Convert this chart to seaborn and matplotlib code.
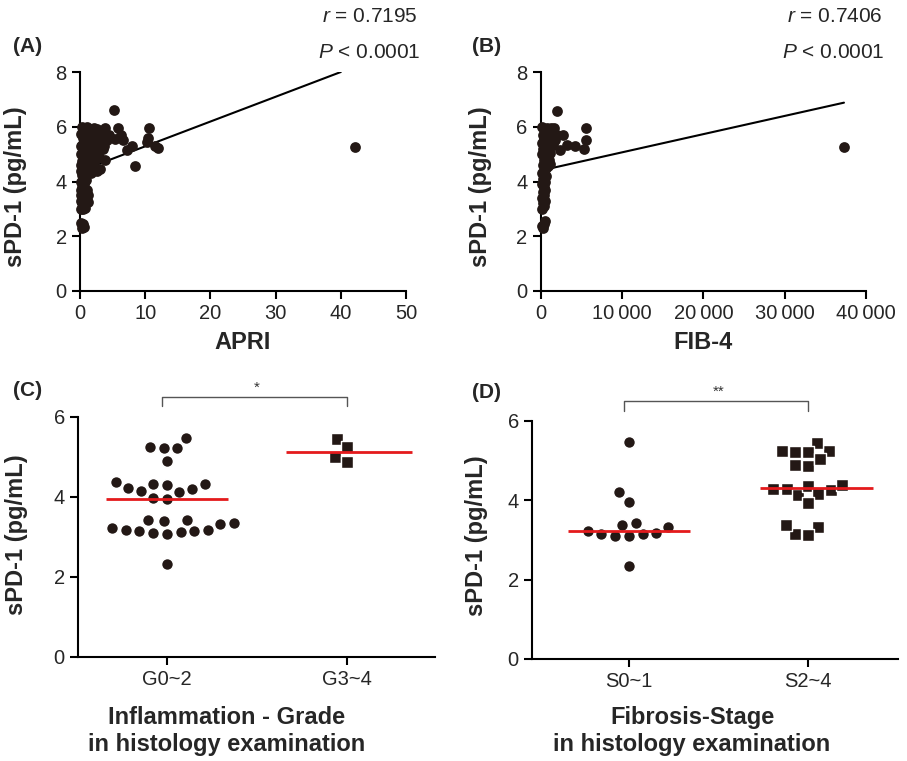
import numpy as np
import matplotlib
matplotlib.use('Agg')
import matplotlib.pyplot as plt
import seaborn as sns

# ---- data ----
apri_x = [0.3, 0.5, 0.6, 0.2, 0.2, 0.4, 0.3, 0.6, 0.8, 1.0, 1.2, 0.5, 0.2, 0.7, 0.4, 1.1,
          0.3, 0.6, 0.2, 0.9, 0.5, 0.3, 1.3, 0.7, 0.2, 1.0, 1.6, 0.4, 2.0, 0.8, 1.4, 0.3,
          2.3, 1.1, 0.6, 1.8, 0.2, 2.6, 1.2, 0.5, 2.1, 0.9, 1.5, 0.3, 2.8, 1.0, 0.6, 1.9,
          0.4, 2.4, 1.3, 0.2, 3.0, 0.8, 1.7, 0.5, 2.6, 1.1, 0.3, 3.3, 3.5, 2.9, 3.8, 3.0,
          2.6, 4.2, 4.5, 3.8, 3.7, 5.2, 5.8, 5.4, 6.3, 6.6, 7.2, 7.9, 8.5, 10.2, 10.4, 10.6,
          11.5, 12.0, 42.2, 1.6, 2.2, 0.7, 1.4, 2.0, 0.9, 1.7, 0.4, 0.1, 0.1, 0.1, 0.15,
          0.5, 0.8, 1.2]
apri_y = [2.3, 2.45, 2.35, 2.5, 3.0, 3.1, 3.2, 3.25, 3.05, 3.3, 3.25, 3.4, 3.5, 3.55, 3.65, 3.7,
          3.8, 3.9, 4.0, 4.05, 4.15, 4.25, 4.3, 4.35, 4.4, 4.45, 4.5, 4.55, 4.6, 4.65, 4.7, 4.75,
          4.8, 4.85, 4.9, 4.95, 5.0, 5.05, 5.1, 5.15, 5.2, 5.25, 5.3, 5.35, 5.4, 5.45, 5.5, 5.55,
          5.6, 5.65, 5.7, 5.75, 5.8, 5.85, 5.9, 5.95, 5.9, 6.0, 5.98, 5.6, 5.2, 4.9, 4.8, 4.45,
          4.4, 5.5, 5.7, 5.95, 5.3, 6.6, 5.95, 5.55, 5.7, 5.5, 5.15, 5.3, 4.58, 5.45, 5.6, 5.95,
          5.3, 5.22, 5.27, 5.8, 5.95, 5.2, 5.0, 5.4, 4.6, 4.3, 4.1, 3.3, 4.6, 5.3, 3.7,
          3.0, 3.6, 3.5]
apri_fit_x = [0, 40]
apri_fit_y = [4.38, 8.0]

fib4_x = [300, 450, 200, 500, 200, 400, 300, 500, 150, 450, 250, 550, 350, 200, 500, 300,
          600, 150, 400, 700, 250, 900, 500, 1100, 350, 800, 150, 1200, 600, 300, 1000, 450,
          1500, 200, 700, 1300, 400, 900, 250, 1600, 550, 1100, 350, 800, 150, 1300, 600, 1800,
          2000, 1000, 700, 2040, 1640, 2740, 3270, 4170, 2370, 5330, 5610, 5610, 37290]
fib4_y = [2.3, 2.45, 2.38, 2.55, 3.0, 3.1, 3.2, 3.3, 3.4, 3.5, 3.6, 3.7, 3.8, 3.9, 4.0, 4.1,
          4.2, 4.3, 4.4, 4.5, 4.6, 4.55, 4.7, 4.65, 4.8, 4.9, 5.0, 5.05, 5.1, 5.2, 5.25, 5.3,
          5.35, 5.4, 5.45, 5.5, 5.55, 5.6, 5.7, 5.75, 5.8, 5.85, 5.9, 5.95, 6.0, 5.95, 5.65, 5.5,
          5.7, 4.8, 5.0, 6.58, 5.95, 5.69, 5.35, 5.29, 5.15, 5.2, 5.53, 5.94, 5.25]
fib4_fit_x = [0, 37290]
fib4_fit_y = [4.40, 6.88]

grade_cats = ['G0~2', 'G3~4']
grade_low = [5.47, 5.22, 5.22, 5.25, 4.9, 4.32, 4.2, 4.38, 4.12, 4.33, 4.31, 4.15, 4.23,
             3.95, 3.97, 3.42, 3.35, 3.23, 3.33, 3.40, 3.42, 3.17, 3.14, 3.11, 3.08, 3.13,
             3.16, 3.17, 2.33]
grade_high = [5.46, 5.25, 5.0, 4.88]

stage_cats = ['S0~1', 'S2~4']
stage_low = [5.46, 4.2, 3.97, 3.39, 3.43, 3.22, 3.16, 3.10, 3.10, 3.14, 3.17, 3.34, 2.34]
stage_high = [5.24, 5.22, 5.24, 5.45, 5.21, 4.89, 4.87, 5.03, 4.29, 4.25, 4.13, 4.35, 4.38,
              4.15, 4.29, 3.94, 3.33, 3.13, 3.16, 3.39]

dark = '#231815'
red = '#e41a1c'

sns.set_theme(style='ticks')
plt.rcParams['font.family'] = ['Liberation Sans', 'DejaVu Sans']
plt.rcParams['mathtext.fontset'] = 'custom'
plt.rcParams['mathtext.rm'] = 'Liberation Sans'
plt.rcParams['mathtext.it'] = 'Liberation Sans:italic'

W, H = 907, 761
fig = plt.figure(figsize=(W / 100, H / 100), dpi=100)


def px_axes(x0, y0, x1, y1):
    return fig.add_axes([x0 / W, 1 - y1 / H, (x1 - x0) / W, (y1 - y0) / H])


def style(ax):
    sns.despine(ax=ax)
    for s in ['left', 'bottom']:
        ax.spines[s].set_linewidth(1.5)
        ax.spines[s].set_color('black')
    ax.tick_params(axis='both', direction='out', length=5.5, width=1.5,
                   labelsize=14.5, color='black', pad=4)


def scatter_panel(ax, x, y, fx, fy, xlim, xticks, xticklabels, xlabel):
    sns.scatterplot(x=x, y=y, ax=ax, color=dark, s=60, linewidth=0, clip_on=False, zorder=3)
    sns.lineplot(x=fx, y=fy, ax=ax, color='black', lw=1.5, zorder=2)
    ax.set_xlim(*xlim)
    ax.set_ylim(0, 8)
    ax.set_yticks([0, 2, 4, 6, 8])
    ax.set_xticks(xticks)
    ax.set_xticklabels(xticklabels)
    style(ax)
    ax.set_xlabel(xlabel, fontsize=17, fontweight='bold', va='center')
    ax.set_ylabel('sPD-1 (pg/mL)', fontsize=17, fontweight='bold')
    ax.xaxis.set_label_coords(0.5, -0.235)


def dot_panel(ax, cats, low, high, star, brk):
    sns.swarmplot(x=[cats[0]] * len(low), y=low, order=cats, ax=ax, color=dark,
                  marker='o', size=8.5, edgecolor='white', linewidth=1.0, zorder=3)
    sns.swarmplot(x=[cats[1]] * len(high), y=high, order=cats, ax=ax, color=dark,
                  marker='s', size=8.0, edgecolor='white', linewidth=1.0, zorder=3)
    meds = [np.median(low), np.median(high)]
    ax.hlines(meds[0], -0.34, 0.34, color=red, lw=2, zorder=4)
    ax.hlines(meds[1], 1 - brk[2], 1 + 0.36, color=red, lw=2, zorder=4)
    ax.set_ylim(0, 6)
    ax.set_yticks([0, 2, 4, 6])
    style(ax)
    ax.set_xlabel('')
    ax.set_ylabel('sPD-1 (pg/mL)', fontsize=17, fontweight='bold')
    # significance bracket
    top, foot = brk[0], brk[1]
    ax.plot([-0.03, -0.03, 1.0, 1.0], [foot, top, top, foot], color='#555555',
            lw=1.0, clip_on=False)
    ax.text(0.5, top + 0.05, star, ha='center', va='bottom', fontsize=11,
            color='#333333', clip_on=False)


# (A)
axA = px_axes(80, 72, 406, 291)
scatter_panel(axA, apri_x, apri_y, apri_fit_x, apri_fit_y, (0, 50),
              [0, 10, 20, 30, 40, 50], ['0', '10', '20', '30', '40', '50'], 'APRI')
axA.yaxis.set_label_coords(-0.163, 0.475)

# (B)
axB = px_axes(540.7, 72, 866, 291)
scatter_panel(axB, fib4_x, fib4_y, fib4_fit_x, fib4_fit_y, (0, 40000),
              [0, 10000, 20000, 30000, 40000],
              ['0', '10\u2009000', '20\u2009000', '30\u2009000', '40\u2009000'], 'FIB-4')
axB.yaxis.set_label_coords(-0.15, 0.475)

# (C)
axC = px_axes(78, 417, 435, 657)
dot_panel(axC, grade_cats, grade_low, grade_high, '*', (6.5, 6.28, 0.34))
axC.set_xlim(-0.494, 1.489)
axC.yaxis.set_label_coords(-0.14, 0.51)

# (D)
axD = px_axes(532, 421, 898, 659)
dot_panel(axD, stage_cats, stage_low, stage_high, '**', (6.51, 6.26, 0.27))
axD.set_xlim(-0.54, 1.50)
axD.yaxis.set_label_coords(-0.12, 0.517)

# panel letters
for lab, x, y in [('(A)', 13, 47), ('(B)', 472, 47), ('(C)', 13, 390), ('(D)', 472, 393)]:
    fig.text(x / W, 1 - y / H, lab, fontsize=15, fontweight='bold', ha='left', va='center')

# correlation stats
for txt, x, y in [('$r$ = 0.7195', 418, 16), ('$P$ < 0.0001', 421, 53),
                  ('$r$ = 0.7406', 883, 16), ('$P$ < 0.0001', 885, 53)]:
    fig.text(x / W, 1 - y / H, txt, fontsize=15, ha='right', va='center')

# two-line category axis titles
fig.text(227 / W, 1 - 731 / H, 'Inflammation - Grade\nin histology examination',
         fontsize=17, fontweight='bold', ha='center', va='center', multialignment='center')
fig.text(692 / W, 1 - 731 / H, 'Fibrosis-Stage\nin histology examination',
         fontsize=17, fontweight='bold', ha='center', va='center', multialignment='center')

fig.savefig('out.png', dpi=100)
